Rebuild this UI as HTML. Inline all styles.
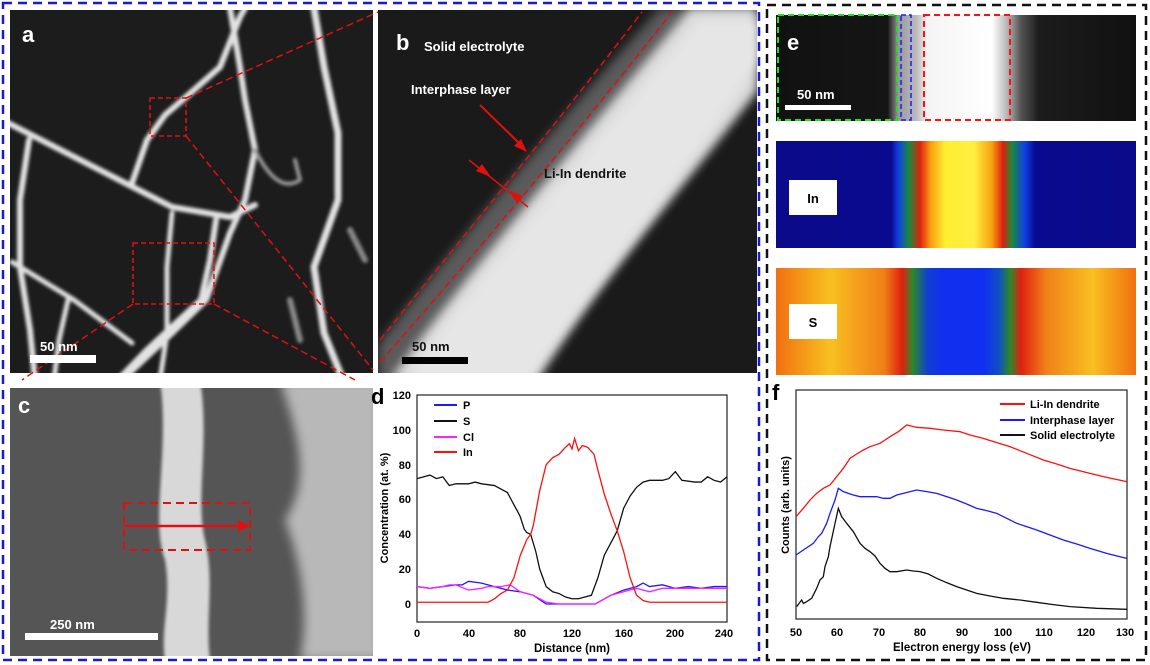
<!DOCTYPE html>
<html><head><meta charset="utf-8"><style>
body{margin:0;width:1150px;height:665px;background:#fff;overflow:hidden}
svg{display:block;font-family:"Liberation Sans",Arial,sans-serif}
.ns{vector-effect:non-scaling-stroke;fill:none}
</style></head><body>
<svg width="1150" height="665" viewBox="0 0 1150 665">
<defs>
<filter id="bl"><feGaussianBlur stdDeviation="1.5"/></filter>
<filter id="bl4"><feGaussianBlur stdDeviation="5"/></filter>
<clipPath id="ca"><rect x="10" y="10" width="363" height="363"/></clipPath>
<clipPath id="cb"><rect x="378" y="10" width="379" height="363"/></clipPath>
<clipPath id="cc"><rect x="10" y="388" width="363" height="268"/></clipPath>
<linearGradient id="gray" x1="0" x2="1">
<stop offset="0" stop-color="#111"/><stop offset="0.31" stop-color="#151515"/><stop offset="0.34" stop-color="#999"/><stop offset="0.39" stop-color="#bbb"/><stop offset="0.42" stop-color="#f4f4f4"/><stop offset="0.6" stop-color="#fff"/><stop offset="0.64" stop-color="#bbb"/><stop offset="0.68" stop-color="#555"/><stop offset="0.73" stop-color="#1c1c1c"/><stop offset="1" stop-color="#111"/></linearGradient>
<linearGradient id="inm" x1="0" x2="1">
<stop offset="0" stop-color="#0a0a8a"/><stop offset="0.32" stop-color="#0a0a90"/><stop offset="0.34" stop-color="#1040e0"/><stop offset="0.37" stop-color="#1a8a3a"/><stop offset="0.40" stop-color="#e02010"/><stop offset="0.43" stop-color="#f8a010"/><stop offset="0.47" stop-color="#ffee30"/><stop offset="0.55" stop-color="#ffee40"/><stop offset="0.60" stop-color="#f8a010"/><stop offset="0.63" stop-color="#e02010"/><stop offset="0.655" stop-color="#1a8a3a"/><stop offset="0.69" stop-color="#1040e8"/><stop offset="0.72" stop-color="#0a0a90"/><stop offset="1" stop-color="#0a0a8a"/></linearGradient>
<linearGradient id="sm" x1="0" x2="1">
<stop offset="0" stop-color="#f07010"/><stop offset="0.15" stop-color="#f8c020"/><stop offset="0.3" stop-color="#f08018"/><stop offset="0.35" stop-color="#e02010"/><stop offset="0.38" stop-color="#2a8a2a"/><stop offset="0.42" stop-color="#1040d0"/><stop offset="0.46" stop-color="#1030f0"/><stop offset="0.58" stop-color="#1030f0"/><stop offset="0.62" stop-color="#1050c0"/><stop offset="0.65" stop-color="#2a8a2a"/><stop offset="0.68" stop-color="#e02010"/><stop offset="0.75" stop-color="#f08018"/><stop offset="0.88" stop-color="#f8c020"/><stop offset="1" stop-color="#f07010"/></linearGradient>
</defs>

<rect x="3" y="3" width="756" height="657" fill="none" stroke="#1a1ad0" stroke-width="2.5" stroke-dasharray="9,6"/>
<rect x="767" y="5" width="379" height="655" fill="none" stroke="#111" stroke-width="2.5" stroke-dasharray="9,6"/>

<!-- panel a -->
<rect x="10" y="10" width="363" height="363" fill="#1c1c1c"/>
<g clip-path="url(#ca)" stroke="#e2e2e2" fill="none" stroke-linecap="round" stroke-linejoin="round" filter="url(#bl)">
<path d="M8,123 L90,165 L172,207 L230,217 L255,205" stroke-width="6"/>
<path d="M132,183 L147,140 L165,115 L186,97 L220,67 L240,17 L245,8" stroke-width="6"/>
<path d="M230,8 L240,67 L245,100 L255,150 L245,200 L230,233 L206,300 L172,333 L122,380" stroke-width="6"/>
<path d="M314,8 L324,67 L338,133 L338,200 L314,267 L324,333 L343,380" stroke-width="7"/>
<path d="M29,140 L20,200 L20,267 L30,330 L35,380" stroke-width="6"/>
<path d="M12,262 L74,300 L132,343" stroke-width="5"/>
<path d="M172,213 L167,267 L167,333 L160,380" stroke-width="5"/>
<path d="M216,220 L210,260 L201,300 L147,350 L118,380" stroke-width="6"/>
<path d="M68,300 L59,340 L54,380" stroke-width="5"/>
<path d="M255,150 C270,180 285,190 300,180 L295,160" stroke="#999" stroke-width="4"/>
<path d="M350,230 L365,260 M290,300 L300,340" stroke="#888" stroke-width="6"/>
</g>
<rect x="150" y="98" width="36" height="38" fill="none" stroke="#e01010" stroke-width="1.5" stroke-dasharray="5,3"/>
<rect x="133" y="243" width="81" height="61" fill="none" stroke="#e01010" stroke-width="1.5" stroke-dasharray="5,3"/>
<g stroke="#e01010" stroke-width="1.5" stroke-dasharray="7,4">
<line x1="186" y1="98" x2="378" y2="12"/><line x1="186" y1="136" x2="373" y2="370"/>
<line x1="133" y1="304" x2="22" y2="380"/><line x1="214" y1="304" x2="355" y2="380"/>
</g>
<rect x="30" y="355" width="66" height="8" fill="#fff"/>
<text x="40" y="351" fill="#fff" font-size="13" font-weight="bold">50 nm</text>
<text x="22" y="42" fill="#fff" font-size="22" font-weight="bold">a</text>

<!-- panel b -->
<rect x="378" y="10" width="379" height="363" fill="#1a1a1a"/>
<g clip-path="url(#cb)">
<path d="M378,345 C450,250 560,120 660,8 L757,8 L757,90 C680,190 600,280 540,380 L378,380 Z" fill="#5a5a5a" filter="url(#bl4)"/>
<path d="M390,380 C470,270 580,140 690,8 L757,8 L757,90 C680,190 600,280 535,380 Z" fill="#dcdcdc" filter="url(#bl4)"/>
<path d="M405,380 C485,270 590,150 700,20 L757,20 L757,60 C690,170 600,270 530,380 Z" fill="#e6e6e6" filter="url(#bl4)"/>
</g>
<g stroke="#e01010" stroke-width="1.5" fill="none" stroke-dasharray="7,4">
<path d="M380,340 C460,240 560,120 642,12"/><path d="M380,362 C470,260 580,130 672,12"/>
</g>
<text x="424" y="51" fill="#fff" font-size="13" font-weight="bold">Solid electrolyte</text>
<text x="411" y="94" fill="#fff" font-size="13" font-weight="bold">Interphase layer</text>
<text x="544" y="178" fill="#111" font-size="13" font-weight="bold">Li-In dendrite</text>
<line x1="480" y1="105" x2="522" y2="146" stroke="#e01010" stroke-width="2"/>
<polygon points="527,152 514,146 521,139" fill="#e01010"/>
<line x1="469" y1="160" x2="528" y2="207" stroke="#e01010" stroke-width="1.5"/>
<polygon points="491,177 476,171 482,164" fill="#e01010"/>
<polygon points="508,190 523,196 517,203" fill="#e01010"/>
<rect x="402" y="357" width="66" height="7" fill="#000"/>
<text x="412" y="351" fill="#111" font-size="13" font-weight="bold">50 nm</text>
<text x="396" y="50" fill="#fff" font-size="22" font-weight="bold">b</text>

<!-- panel c -->
<rect x="10" y="388" width="363" height="268" fill="#555"/>
<g clip-path="url(#cc)">
<path d="M160,380 C170,450 150,520 165,560 C172,600 160,630 165,660 L210,660 C205,620 215,580 205,540 C195,500 210,440 200,380 Z" fill="#d8d8d8" filter="url(#bl)"/>
<path d="M280,380 C300,440 310,480 285,520 C300,560 310,610 300,660 L380,660 L380,380 Z" fill="#b8b8b8" filter="url(#bl4)"/>
</g>
<rect x="124" y="503" width="126" height="47" fill="none" stroke="#e01010" stroke-width="2" stroke-dasharray="8,5"/>
<line x1="124" y1="526" x2="240" y2="526" stroke="#e01010" stroke-width="2.5"/>
<polygon points="250,526 238,520 238,532" fill="#e01010"/>
<rect x="25" y="633" width="133" height="7" fill="#fff"/>
<text x="50" y="629" fill="#fff" font-size="13" font-weight="bold">250 nm</text>
<text x="18" y="413" fill="#fff" font-size="22" font-weight="bold">c</text>

<!-- panel d -->
<text x="371" y="404" font-size="22" font-weight="bold">d</text>
<rect x="417" y="395" width="310" height="227" fill="none" stroke="#222" stroke-width="1.2"/>
<g font-size="11" font-weight="bold" text-anchor="end">
<text x="411" y="608">0</text><text x="411" y="573">20</text><text x="411" y="538">40</text><text x="411" y="503">60</text><text x="411" y="469">80</text><text x="411" y="434">100</text><text x="411" y="399">120</text>
</g>
<g font-size="11" font-weight="bold" text-anchor="middle">
<text x="417" y="637">0</text><text x="469" y="637">40</text><text x="520" y="637">80</text><text x="572" y="637">120</text><text x="624" y="637">160</text><text x="675" y="637">200</text><text x="724" y="637">240</text>
</g>
<text x="572" y="652" font-size="11.5" font-weight="bold" text-anchor="middle">Distance (nm)</text>
<text transform="translate(388,508) rotate(-90)" font-size="11" font-weight="bold" text-anchor="middle">Concentration (at. %)</text>
<g transform="translate(417,604) scale(1.2917,-1.742)" stroke-width="1.3">
<polyline class="ns" stroke="#1a1aff" points="0,10 10,9 20,10 30,11 35,11 40,13 50,12 60,10 70,8 80,7 90,5 100,0 110,0 138,0 150,5 160,8 165,9 170,10 175,12 180,10 190,11 200,9 210,10 220,9 230,10 240,10"/>
<polyline class="ns" stroke="#ff20ff" points="0,10 10,9 20,10 25,11 30,11 40,8 50,9 55,10 65,10 72,11 80,7 90,5 100,1 110,0 138,0 150,5 160,7 170,9 180,7 190,9 200,9 240,9"/>
<polyline class="ns" stroke="#111" points="0,72 5,73 10,74 15,72 20,73 25,68 30,69 40,69 45,70 50,69 60,68 65,66 70,64 75,57 78,53 80,50 83,43 85,41 88,40 92,30 95,20 100,10 105,7 110,6 115,4 120,3 125,3 130,4 135,5 140,15 145,28 150,35 155,42 160,55 165,62 170,67 175,70 180,71 190,71 195,72 200,76 205,71 215,70 220,70 225,73 230,71 235,70 240,73"/>
<polyline class="ns" stroke="#ff1010" points="0,1 30,1 55,1 60,3 65,6 70,8 75,15 80,28 85,37 88,40 90,45 95,65 100,80 105,84 110,86 115,90 118,92 120,89 122,95 125,88 128,91 132,90 137,86 140,77 145,63 150,52 155,42 160,30 165,15 170,5 175,2 180,1 240,1"/>
</g>
<g stroke-width="2"><line x1="434" y1="405" x2="457" y2="405" stroke="#1a1aff"/><line x1="434" y1="421" x2="457" y2="421" stroke="#111"/><line x1="434" y1="437" x2="457" y2="437" stroke="#ff20ff"/><line x1="434" y1="452" x2="457" y2="452" stroke="#ff1010"/></g>
<g font-size="11" font-weight="bold"><text x="463" y="409">P</text><text x="463" y="425">S</text><text x="463" y="441">Cl</text><text x="463" y="456">In</text></g>

<!-- panel e -->
<rect x="776" y="15" width="360" height="106" fill="url(#gray)"/>
<rect x="778" y="15" width="119" height="105" fill="none" stroke="#20e020" stroke-width="2" stroke-dasharray="6,4"/>
<rect x="901" y="15" width="10" height="105" fill="none" stroke="#1a1aff" stroke-width="1.5" stroke-dasharray="5,3"/>
<rect x="924" y="15" width="86" height="105" fill="none" stroke="#ff1010" stroke-width="2" stroke-dasharray="6,4"/>
<rect x="785" y="105" width="66" height="5" fill="#fff"/>
<text x="797" y="99" fill="#fff" font-size="13" font-weight="bold">50 nm</text>
<text x="787" y="50" fill="#fff" font-size="22" font-weight="bold">e</text>
<rect x="776" y="141" width="360" height="107" fill="url(#inm)"/>
<rect x="789" y="180" width="48" height="35" fill="#fff"/>
<text x="813" y="203" font-size="13" font-weight="bold" text-anchor="middle">In</text>
<rect x="776" y="268" width="360" height="107" fill="url(#sm)"/>
<rect x="789" y="304" width="48" height="35" fill="#fff"/>
<text x="813" y="327" font-size="13" font-weight="bold" text-anchor="middle">S</text>

<!-- panel f -->
<text x="772" y="400" font-size="22" font-weight="bold">f</text>
<rect x="796" y="390" width="331" height="229" fill="none" stroke="#222" stroke-width="1.2"/>
<g font-size="11" font-weight="bold" text-anchor="middle">
<text x="796" y="636">50</text><text x="837" y="636">60</text><text x="879" y="636">70</text><text x="920" y="636">80</text><text x="962" y="636">90</text><text x="1003" y="636">100</text><text x="1044" y="636">110</text><text x="1086" y="636">120</text><text x="1125" y="636">130</text>
</g>
<text x="962" y="651" font-size="11.5" font-weight="bold" text-anchor="middle">Electron energy loss (eV)</text>
<text transform="translate(789,505) rotate(-90)" font-size="11" font-weight="bold" text-anchor="middle">Counts (arb. units)</text>
<g transform="translate(770,380) scale(0.33333)" stroke-width="1.3">
<polyline class="ns" stroke="#ff1010" points="78,410 100,385 120,360 140,340 160,325 180,315 200,290 220,265 240,235 260,222 280,210 300,200 330,190 345,180 360,170 385,155 410,135 440,142 480,145 520,150 570,155 600,165 640,175 680,188 720,200 770,220 820,240 860,252 900,265 960,280 1010,292 1070,305"/>
<polyline class="ns" stroke="#1a1aff" points="78,525 100,510 130,490 145,470 155,460 170,430 180,400 195,360 205,325 220,335 235,340 250,345 270,350 300,350 320,350 340,355 360,355 380,345 400,340 440,330 470,335 500,340 530,350 560,360 590,372 620,385 650,392 680,400 710,415 740,430 770,440 800,450 840,465 880,480 920,492 960,505 1010,520 1070,535"/>
<polyline class="ns" stroke="#111" points="80,680 95,660 100,670 110,665 125,655 140,625 150,600 160,590 165,560 175,530 180,500 195,430 205,385 215,410 230,430 250,455 270,490 285,505 300,515 315,528 330,550 345,565 360,575 380,575 410,570 430,573 450,575 475,582 500,595 530,608 560,620 590,630 620,640 660,648 700,655 750,660 800,667 850,674 900,680 980,685 1070,688"/>
</g>
<g stroke-width="2"><line x1="1000" y1="404" x2="1025" y2="404" stroke="#ff1010"/><line x1="1000" y1="420" x2="1025" y2="420" stroke="#1a1aff"/><line x1="1000" y1="435" x2="1025" y2="435" stroke="#111"/></g>
<g font-size="11" font-weight="bold"><text x="1030" y="408">Li-In dendrite</text><text x="1030" y="424">Interphase layer</text><text x="1030" y="439">Solid electrolyte</text></g>
</svg>
</body></html>
